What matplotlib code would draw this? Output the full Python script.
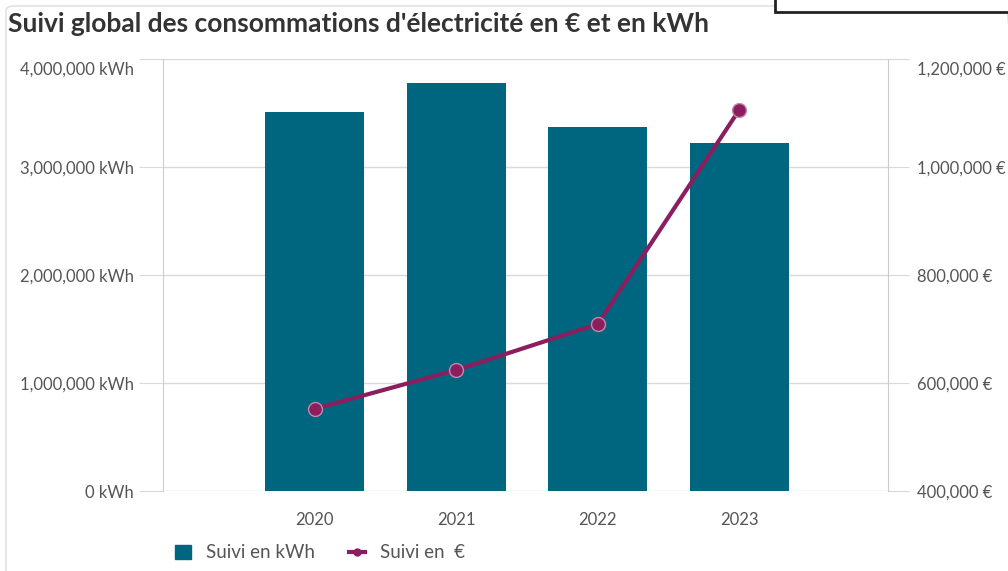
import matplotlib.pyplot as plt
import matplotlib.transforms as mtransforms
from matplotlib.lines import Line2D
from matplotlib.patches import Patch, FancyBboxPatch, Rectangle
from matplotlib.ticker import FuncFormatter

plt.rcParams['font.family'] = ['Lato', 'DejaVu Sans']

# data
years = ['2020', '2021', '2022', '2023']
kwh = [3510000, 3778000, 3370000, 3222000]
euros = [552000, 624000, 709000, 1106000]

bar_color = '#00657f'
line_color = '#8b1e5e'
grid_color = '#d9d9d9'
text_color = '#555555'

fig = plt.figure(figsize=(10.08, 5.71), dpi=100)
ax = fig.add_axes([163/1008, 1 - 491/571, (888-163)/1008, (491-59)/571])
ax2 = ax.twinx()

x = list(range(len(years)))
ax.bar(x, kwh, width=0.7, color=bar_color, zorder=2)
ax2.plot(x, euros, color=line_color, lw=3, marker='o', ms=10,
         mfc=line_color, mec='#c58aa8', mew=1, zorder=3)

ax.set_xlim(-1.07, 4.05)
ax.set_ylim(0, 4000000)
ax2.set_ylim(400000, 1200000)
ax.set_yticks([0, 1000000, 2000000, 3000000, 4000000])
ax2.set_yticks([400000, 600000, 800000, 1000000, 1200000])
ax.yaxis.set_major_formatter(FuncFormatter(lambda v, p: f'{v:,.0f} kWh'))
ax2.yaxis.set_major_formatter(FuncFormatter(lambda v, p: f'{v:,.0f} €'))
ax.set_xticks(x)
ax.set_xticklabels(years)

ax.grid(axis='y', color=grid_color, lw=1, zorder=0)
ax.set_axisbelow(True)
for a in (ax, ax2):
    for s in a.spines.values():
        s.set_visible(False)
    a.spines['left'].set_visible(a is ax)
    a.spines['right'].set_visible(a is ax2)
    a.spines['left'].set_color('#cccccc')
    a.spines['right'].set_color('#cccccc')
ax.tick_params(axis='y', length=17, color=grid_color, labelsize=12,
               labelcolor=text_color, pad=4)
ax2.tick_params(axis='y', length=15, color=grid_color, labelsize=12,
                labelcolor=text_color, pad=6)
ax.tick_params(axis='x', length=0, labelsize=12, labelcolor=text_color, pad=15)

# top labels sit a little below their tick in the reference
shift = mtransforms.ScaledTranslation(0, -9/100, fig.dpi_scale_trans)
for a, side in ((ax, 'label1'), (ax2, 'label2')):
    t = a.yaxis.get_major_ticks()[-1]
    lab = getattr(t, side)
    lab.set_transform(lab.get_transform() + shift)

fig.text(8/1008, 1 - 24/571, "Suivi global des consommations d'électricité en € et en kWh",
         fontsize=19, fontweight='bold', color='#333333', va='center')

handles = [Patch(color=bar_color),
           Line2D([], [], color=line_color, lw=3, marker='o', ms=5)]
fig.legend(handles, ['Suivi en kWh', 'Suivi en  €'], loc='center left',
           bbox_to_anchor=(158/1008, 1 - 553/571), ncol=2, frameon=False,
           fontsize=13.5, labelcolor=text_color, handlelength=0.85,
           handleheight=0.85, handletextpad=0.8, columnspacing=1.8)

# outer frame
fig.patches.append(FancyBboxPatch((6/1008, -0.02), 1.0, 1 - 6/571 + 0.02, transform=fig.transFigure,
                                  boxstyle='round,pad=0,rounding_size=0.008',
                                  fill=False, ec='#dddddd', lw=1))
fig.patches.append(Rectangle((775/1008, 1 - 12/571), 0.3, 0.05, transform=fig.transFigure,
                             fill=True, fc='white', ec='#222222', lw=2))

fig.savefig('out.png', dpi=100)
